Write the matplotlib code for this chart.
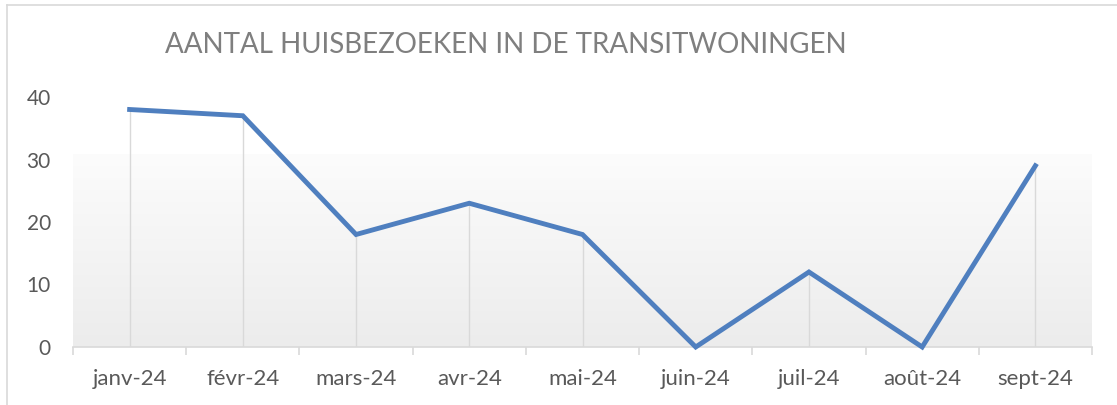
import matplotlib
matplotlib.use('Agg')
import matplotlib.pyplot as plt
import numpy as np
from matplotlib.lines import Line2D

# Données
maanden = ['janv-24', 'févr-24', 'mars-24', 'avr-24', 'mai-24',
           'juin-24', 'juil-24', 'août-24', 'sept-24']
bezoeken = [38, 37, 18, 23, 18, 0, 12, 0, 29]
y_ticks = [0, 10, 20, 30, 40]
titel = 'AANTAL HUISBEZOEKEN IN DE TRANSITWONINGEN'

plt.rcParams['font.family'] = ['Lato', 'DejaVu Sans']

fig = plt.figure(figsize=(11.17, 4.05), dpi=100)
ax = fig.add_axes([73 / 1117, 1 - 347 / 405, (1092 - 73) / 1117, 250 / 405])

x = np.arange(len(maanden))

# achtergrond met verloop
grad = np.linspace(0, 1, 256).reshape(-1, 1)
ax.imshow(grad, extent=(-0.5, len(maanden) - 0.5, 0, 30.8), aspect='auto',
          cmap=matplotlib.colors.LinearSegmentedColormap.from_list(
              'g', ['#ececec', '#fcfcfc']), origin='lower', zorder=0)

ax.vlines(x, 0, bezoeken, color='#d9d9d9', linewidth=1.0, zorder=1)
ax.plot(x, bezoeken, color='#4f7fbf', linewidth=3.5, solid_joinstyle='miter',
        zorder=3, clip_on=False)

ax.set_xlim(-0.5, len(maanden) - 0.5)
ax.set_ylim(0, 40)

for s in ['top', 'right', 'left']:
    ax.spines[s].set_visible(False)
ax.spines['bottom'].set_color('#d9d9d9')
ax.spines['bottom'].set_linewidth(1.2)

ax.set_xticks(np.arange(-0.5, len(maanden)), labels=[''] * (len(maanden) + 1))
ax.tick_params(axis='x', which='major', length=6, color='#d9d9d9', width=1.2)
ax.set_xticks(x, labels=maanden, minor=True)
ax.tick_params(axis='x', which='minor', length=0, pad=16, labelsize=16,
               labelcolor='#595959')

ax.set_yticks(y_ticks)
ax.tick_params(axis='y', length=0, pad=16, labelsize=15, labelcolor='#595959')

fig.text(165 / 1117, 1 - 45 / 405, titel, fontsize=20, color='#7f7f7f',
         va='center', ha='left')

# kader
fig.add_artist(Line2D([7 / 1117, 1], [1 - 5 / 405, 1 - 5 / 405],
                      transform=fig.transFigure, color='#d9d9d9', linewidth=1.2))
fig.add_artist(Line2D([7 / 1117, 7 / 1117], [0, 1 - 5 / 405],
                      transform=fig.transFigure, color='#d9d9d9', linewidth=1.2))

fig.savefig('out.png', dpi=100, facecolor='white')
